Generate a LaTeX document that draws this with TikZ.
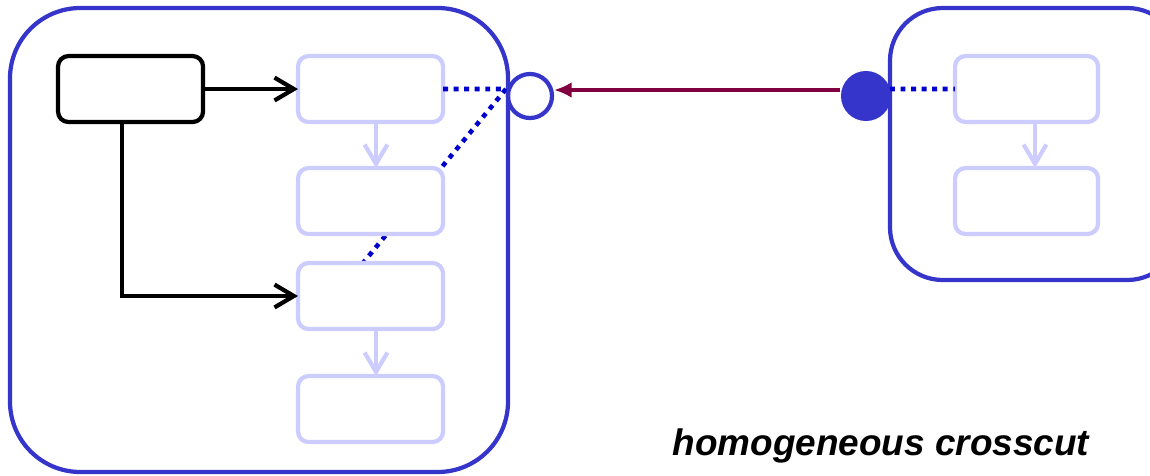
\documentclass[tikz,border=0pt]{standalone}
\usepackage{fontspec}
\setmainfont{Liberation Sans}
\usetikzlibrary{arrows.meta}
\definecolor{frameblue}{RGB}{53,53,204}
\definecolor{lightbox}{RGB}{204,204,255}
\definecolor{dotblue}{RGB}{0,0,204}
\definecolor{maroon}{RGB}{128,0,64}
\tikzset{
  px/.style={x=0.01cm,y=-0.01cm},
  frame/.style={draw=frameblue,line width=1.2pt},
  darkbox/.style={draw=black,line width=1.2pt,rounded corners=3pt,fill=white,outer sep=0pt},
  lbox/.style={draw=lightbox,line width=1.2pt,rounded corners=3pt,fill=white,outer sep=0pt},
  lflow/.style={draw=lightbox,line width=1.2pt,-{Straight Barb[length=5.5pt,width=6.5pt,line width=1.2pt]}},
  dflow/.style={draw=black,line width=1.2pt,-{Straight Barb[length=5.5pt,width=6.5pt,line width=1.2pt]}},
  dotl/.style={draw=dotblue,line width=1.3pt,dash pattern=on 1.4pt off 1.6pt},
  calln/.style={draw=maroon,line width=0.9pt,-{Latex[length=5pt,width=4.5pt]}},
}
\begin{document}
\begin{tikzpicture}[px]
\useasboundingbox (0,0) rectangle (1150,475);
\begin{scope}
\clip (0,0) rectangle (1150,475);
% frames
\draw[frame,rounded corners=20pt] (10,8) rectangle (508,472);
\draw[frame,rounded corners=15pt] (890,8) rectangle (1180,280);
% coordinates
\coordinate (e1) at (506,89);
\coordinate (e2) at (890,89);
\coordinate (d3) at (363,263);
% dotted links (behind boxes)
\draw[dotl] (e1) -- (d3);
% boxes
\node[darkbox,minimum width=1.45cm,minimum height=0.66cm,anchor=north west] (k) at (58,56) {};
\node[lbox,minimum width=1.45cm,minimum height=0.66cm,anchor=north west] (b1) at (298,56) {};
\node[lbox,minimum width=1.45cm,minimum height=0.66cm,anchor=north west] (b2) at (298,168) {};
\node[lbox,minimum width=1.45cm,minimum height=0.66cm,anchor=north west] (b3) at (298,263) {};
\node[lbox,minimum width=1.45cm,minimum height=0.66cm,anchor=north west] (b4) at (298,376) {};
\node[lbox,minimum width=1.43cm,minimum height=0.66cm,anchor=north west] (r1) at (955,56) {};
\node[lbox,minimum width=1.43cm,minimum height=0.66cm,anchor=north west] (r2) at (955,168) {};
\draw[dotl] (b1.east) -- (e1);
\draw[dotl] (e2) -- (r1.west);
% light flows
\draw[lflow] (b1.south -| 376,0) -- (b2.north -| 376,0);
\draw[lflow] (b3.south -| 376,0) -- (b4.north -| 376,0);
\draw[lflow] (r1.south -| 1035,0) -- (r2.north -| 1035,0);
% dark flows
\draw[dflow] (k.east) -- (b1.west);
\draw[dflow] (k.south -| 122,0) |- (b3.west);
% ports
\node[circle,draw=frameblue,line width=1.2pt,minimum size=0.44cm,inner sep=0pt] (p1) at (530,96) {};
\node[circle,fill=frameblue,minimum size=0.5cm,inner sep=0pt] (p2) at (866,96) {};
\draw[calln] (p2.west |- 0,90) -- (p1.east |- 0,90);
\end{scope}
\node[anchor=base west,inner sep=0pt,font=\fontsize{10.5pt}{12pt}\selectfont\bfseries\itshape] (t) at (672,455) {homogeneous crosscut};
\end{tikzpicture}
\end{document}
